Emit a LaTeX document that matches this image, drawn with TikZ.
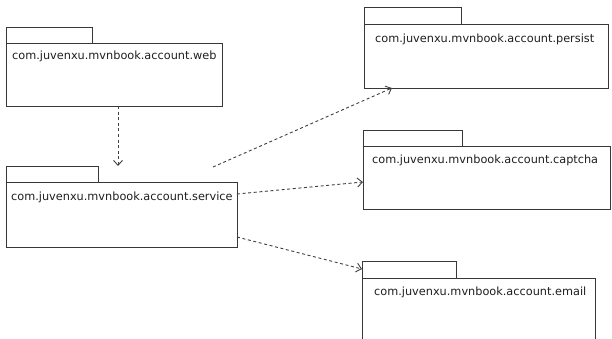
\documentclass[tikz,border=0pt]{standalone}
\usepackage{fontspec}
\setmainfont{DejaVu Sans}
\usetikzlibrary{arrows.meta}
\begin{document}
\begin{tikzpicture}[x=1pt,y=-1pt,
  box/.style={draw=black!78, line width=0.9pt, inner sep=0pt, anchor=north west},
  pkglabel/.style={anchor=west, inner sep=0pt, text=black!88, font=\fontsize{11.3}{13}\selectfont},
  dep/.style={draw=black!75, line width=0.9pt, dash pattern=on 3pt off 2.6pt,
    -{Straight Barb[length=5pt,width=9pt,line width=0.9pt]}}]
\clip (0,0) rectangle (612,339);
\fill[white] (0,0) rectangle (612,339);
% web
\node[box, minimum width=86pt, minimum height=16pt] (webtab) at (6,27) {};
\node[box, minimum width=216pt, minimum height=63pt] (web) at (6,43) {};
\node[pkglabel] (weblbl) at (12,56.5) {com.juvenxu.mvnbook.account.web};
% service
\node[box, minimum width=92pt, minimum height=16pt] (svctab) at (6,166) {};
\node[box, minimum width=231pt, minimum height=65pt] (svc) at (6,182) {};
\node[pkglabel] (svclbl) at (11,197) {com.juvenxu.mvnbook.account.service};
% persist
\node[box, minimum width=97pt, minimum height=17pt] (pertab) at (364,7) {};
\node[box, minimum width=244pt, minimum height=64pt] (per) at (364,24) {};
\node[pkglabel] (perlbl) at (375,39.3) {com.juvenxu.mvnbook.account.persist};
% captcha
\node[box, minimum width=99pt, minimum height=16pt] (captab) at (363,130) {};
\node[box, minimum width=247pt, minimum height=63pt] (cap) at (363,146) {};
\node[pkglabel] (caplbl) at (372,160.7) {com.juvenxu.mvnbook.account.captcha};
% email
\node[box, minimum width=94pt, minimum height=17pt] (emltab) at (362,261) {};
\node[box, minimum width=233pt, minimum height=80pt] (eml) at (362,278) {};
\node[pkglabel] (emllbl) at (374,292.7) {com.juvenxu.mvnbook.account.email};
% connector end points
\coordinate (w1) at (118,106);
\coordinate (w2) at (118,166);
\coordinate (p1) at (213,167);
\coordinate (p2) at (392,88);
\coordinate (c1) at (237,194);
\coordinate (c2) at (363,182);
\coordinate (e1) at (237,237);
\coordinate (e2) at (362,269);
\draw[dep] (w1) -- (w2);
\draw[dep] (p1) -- (p2);
\draw[dep] (c1) -- (c2);
\draw[dep] (e1) -- (e2);
\end{tikzpicture}
\end{document}
